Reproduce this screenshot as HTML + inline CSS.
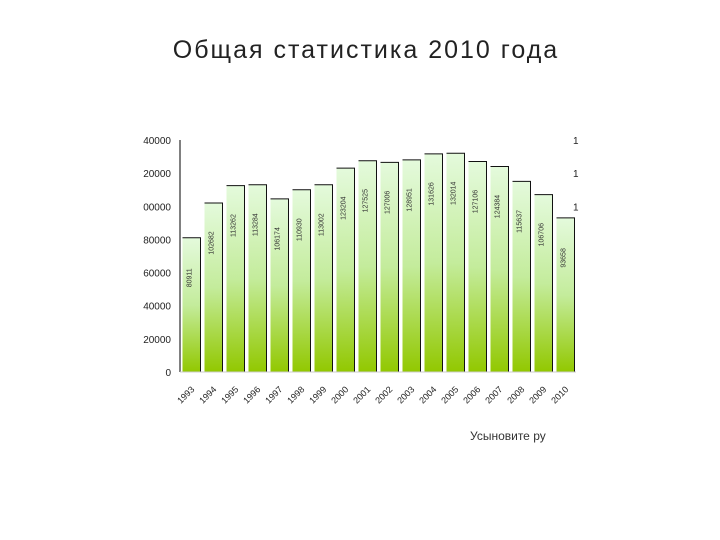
<!DOCTYPE html>
<html><head><meta charset="utf-8"><style>
body{margin:0;background:#fff;width:720px;height:540px;overflow:hidden;font-family:"Liberation Sans","Noto Sans CJK SC",sans-serif}
</style></head><body>
<div style="position:absolute;left:0;width:732px;top:36px;text-align:center;font-size:25px;letter-spacing:2px;color:#222;font-family:'Liberation Sans','DejaVu Sans',sans-serif">Общая статистика 2010 года</div>
<svg id="chart" width="720" height="540" style="position:absolute;left:0;top:0">
<defs><linearGradient id="g" x1="0" y1="0" x2="0" y2="1"><stop offset="0" stop-color="#e4fadc"/><stop offset="0.5" stop-color="#c4ec9c"/><stop offset="1" stop-color="#92c800"/></linearGradient></defs>
</svg>
<div style="position:absolute;left:470px;top:429px;font-size:12px;color:#333">Усыновите ру</div>
<script>
const years=["1993","1994","1995","1996","1997","1998","1999","2000","2001","2002","2003","2004","2005","2006","2007","2008","2009","2010"];
const values=[81000,102000,112500,113000,104500,110000,113000,123000,127500,126500,128000,131600,132000,127000,124000,115000,107000,93000];
const valueLabels=["80911","102682","113262","113284","106174","110930","113002","123204","127525","127006","128951","131626","132014","127106","124384","115637","106706","93658"];
const yTicks=[0,20000,40000,60000,80000,100000,120000,140000];
const yTickLabels=["0","20000","40000","60000","80000","00000","20000","40000"];
const NS="http://www.w3.org/2000/svg",svg=document.getElementById('chart');
const x0=180,x1=576,yb=372,yt=140,max=140000;
const y=v=>yb-(v/max)*(yb-yt);
const slot=(x1-x0)/years.length;
const xs=i=>x0+i*slot;
function mk(t,a,txt){const e=document.createElementNS(NS,t);for(const k in a)e.setAttribute(k,a[k]);if(txt!==undefined)e.textContent=txt;svg.appendChild(e);return e;}
let ax=mk('line',{x1:x0,y1:yt,x2:x0,y2:yb,stroke:'#000','stroke-width':1});


yTicks.forEach((v,i)=>{
 const t=mk('text',{x:x0-9,y:y(v)+4,'text-anchor':'end','font-size':10,fill:'#222'},yTickLabels[i]);
 
 
});
[140000,120000,100000].forEach(v=>{
 const t=mk('text',{x:573,y:y(v)+4,'font-size':10,fill:'#222'},'1');
 
 
});
values.forEach((v,i)=>{
 const bx=xs(i)+2.5,bw=slot-4,by=y(v);
 const r=mk('rect',{x:bx,y:by,width:bw,height:yb-by,fill:'url(#g)'});
 
 
 mk('polyline',{points:`${bx},${by} ${bx+bw},${by} ${bx+bw},${yb}`,fill:'none',stroke:'#111','stroke-width':1});
 const cx=bx+bw/2,cy=by+40;
 const l=mk('text',{x:cx,y:cy,'font-size':7,'text-anchor':'middle',fill:'#333',transform:`rotate(-90 ${cx} ${cy})`},valueLabels[i]);
 
 
 const tx=xs(i)+slot/2+4,ty=yb+18;
 const xl=mk('text',{x:tx,y:ty,'font-size':9,'text-anchor':'end',fill:'#222',transform:`rotate(-45 ${tx} ${ty})`},years[i]);
 
 
});
let xa=mk('line',{x1:x0,y1:yb,x2:x1,y2:yb,stroke:'#ccc','stroke-width':1});


</script>
</body></html>
